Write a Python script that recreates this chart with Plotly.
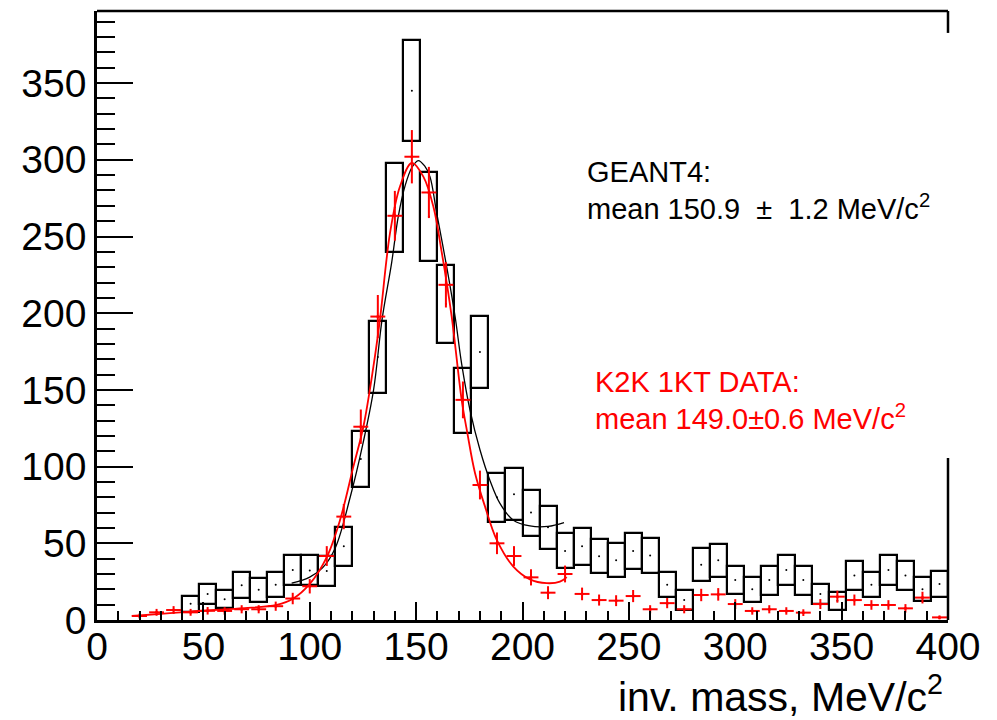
import numpy as np
import plotly.graph_objects as go

# ---------------- data ----------------
# GEANT4 histogram (bin centres, contents, half-height of error boxes)
geant_x = [44, 52, 60, 68, 76, 84, 92, 100, 108, 116, 124, 132, 140, 148, 156, 164,
           172, 180, 188, 196, 204, 212, 220, 228, 236, 244, 252, 260, 268, 276, 284,
           292, 300, 308, 316, 324, 332, 340, 348, 356, 364, 372, 380, 388, 396]
geant_y = [10.6, 17, 13.6, 22.6, 19.8, 23, 32.6, 32.3, 32, 48, 105, 171.5, 269, 345, 263, 206,
           143, 174.7, 80, 82, 70, 60.5, 45, 48, 41.5, 39, 45, 42, 23, 13, 36,
           39, 26, 20, 26, 32.6, 26, 17, 12.5, 29, 23, 32.6, 29, 20, 23.5]
geant_err = [5.2, 6.5, 6, 8.5, 7.8, 8.2, 9.8, 9.8, 10, 12.5, 18.5, 23.7, 29, 33, 29, 25.3,
             21.2, 23.6, 15.8, 17, 15, 14, 11.4, 12, 11.1, 11.1, 11.5, 11.5, 8, 6.5, 10.8,
             10.8, 9, 8, 9.5, 9.8, 9.5, 6.5, 6, 9.7, 8.2, 9.8, 9.2, 7.9, 8.2]

# K2K 1KT data points
data_x = [20, 28, 36, 44, 52, 60, 68, 76, 84, 92, 100, 108, 116, 124, 132, 140, 148, 156,
          164, 172, 180, 188, 196, 204, 212, 220, 228, 236, 244, 252, 260, 268, 276, 284,
          292, 300, 308, 316, 324, 332, 340, 348, 356, 364, 372, 380, 388, 396]
data_y = [2.6, 5, 6.5, 5, 6, 5.9, 7, 7, 9, 14, 22, 41.7, 67.4, 126, 197.8, 263.5, 302, 278.7,
          218.5, 143.5, 88, 50, 41.7, 27.8, 17.8, 30, 17, 13, 12.6, 15.6, 7, 11, 7, 16.3,
          16.7, 10.4, 5.9, 7, 5.9, 4.8, 10.4, 15.2, 13, 9.8, 9.8, 7.6, 14.6, 1.7]

# fitted curves
fit_mc_x = [91.5, 100, 106, 112, 119, 125, 130, 134, 138.5, 141.6, 144.8, 148, 151, 154,
            156.5, 159.7, 164.4, 168.3, 171.4, 175.3, 180, 184.7, 189.4, 195.7, 203.5, 212, 219.5]
fit_mc_y = [24, 28, 34, 47, 80, 115, 150, 196, 233, 263, 283, 295, 299.5, 296,
            289, 265, 230, 198, 167, 137, 111, 91, 76, 65, 61.3, 61, 63.5]

fit_data_x = [16.3, 30, 44, 67, 84.5, 92.3, 100, 108, 114.2, 120.5, 125.2, 129.9, 133, 137.7,
              142.4, 148, 153.4, 158.1, 162, 166.7, 171.4, 174.1, 177.7, 182.4, 187.9, 195.7,
              203.5, 211.4, 217.6, 220.8]
fit_data_y = [2.6, 4, 5.5, 7.6, 9.8, 14, 23.5, 41, 65, 100, 126, 165, 196, 252,
              282.6, 298, 289, 269.5, 240, 198, 143.5, 121.7, 95.7, 73.9, 52.2, 34.8,
              26.5, 24, 25, 28]

x_ticks = [0, 50, 100, 150, 200, 250, 300, 350, 400]
y_ticks = [0, 50, 100, 150, 200, 250, 300, 350]

# ---------------- figure ----------------
FONT = "Liberation Sans, Arial, sans-serif"
RED = "#ff0000"

gy = np.array(geant_y)
ge = np.array(geant_err)
dy = np.array(data_y)

fig = go.Figure()

fig.add_trace(go.Bar(
    x=geant_x, y=2 * ge, base=gy - ge, width=8,
    marker=dict(color="rgba(0,0,0,0)", line=dict(color="black", width=2.2)),
    showlegend=False, hoverinfo="skip"))

fig.add_trace(go.Scatter(
    x=geant_x, y=geant_y, mode="markers",
    marker=dict(color="black", size=2), showlegend=False, hoverinfo="skip"))

fig.add_trace(go.Scatter(
    x=fit_mc_x, y=fit_mc_y, mode="lines", line=dict(color="black", width=1.3, shape="spline"),
    showlegend=False, hoverinfo="skip"))

fig.add_trace(go.Scatter(
    x=data_x, y=data_y, mode="markers",
    marker=dict(color=RED, size=3),
    error_y=dict(type="data", array=np.sqrt(dy), color=RED, thickness=2, width=0),
    error_x=dict(type="constant", value=3.5, color=RED, thickness=2, width=0),
    showlegend=False, hoverinfo="skip"))

fig.add_trace(go.Scatter(
    x=fit_data_x, y=fit_data_y, mode="lines", line=dict(color=RED, width=1.8, shape="spline"),
    showlegend=False, hoverinfo="skip"))

fig.update_layout(
    width=981, height=712,
    margin=dict(l=89, r=41, t=3, b=100),
    paper_bgcolor="white", plot_bgcolor="white",
    font=dict(family=FONT, color="black"),
    bargap=0,
    xaxis=dict(range=[0, 400], tickvals=x_ticks, ticks="inside", ticklen=18, tickwidth=1.5,
               tickcolor="black", minor=dict(dtick=10, ticklen=9, ticks="inside", tickcolor="black", tickwidth=1.5),
               showline=True, linecolor="black", linewidth=2.5, showgrid=False, zeroline=False,
               tickfont=dict(size=39, family=FONT), ticklabelstandoff=-10),
    yaxis=dict(range=[0, 397], tickvals=y_ticks, ticks="inside", ticklen=36, tickwidth=1.5,
               tickcolor="black", minor=dict(dtick=10, ticklen=18, ticks="inside", tickcolor="black", tickwidth=1.5),
               showline=True, linecolor="black", linewidth=2.5, showgrid=False, zeroline=False,
               tickfont=dict(size=39, family=FONT), ticklabelstandoff=0),
    shapes=[
        dict(type="line", xref="paper", yref="paper", x0=0, x1=1, y0=1, y1=1,
             line=dict(color="black", width=2.5)),
        dict(type="line", xref="paper", yref="paper", x0=1, x1=1, y0=1, y1=0.964,
             line=dict(color="black", width=2.5)),
        dict(type="line", xref="paper", yref="paper", x0=1, x1=1, y0=0, y1=0.266,
             line=dict(color="black", width=2.5)),
    ],
    annotations=[
        dict(text="GEANT4:", xref="paper", yref="paper", x=0.5734, y=0.7356,
             xanchor="left", yanchor="middle", showarrow=False,
             font=dict(size=29, color="black", family=FONT)),
        dict(text="mean 150.9&nbsp; ±&nbsp; 1.2 MeV/c<sup>2</sup>", xref="paper", yref="paper", x=0.5734, y=0.678,
             xanchor="left", yanchor="middle", showarrow=False,
             font=dict(size=29, color="black", family=FONT)),
        dict(text="K2K 1KT DATA:", xref="paper", yref="paper", x=0.5828, y=0.391,
             xanchor="left", yanchor="middle", showarrow=False,
             font=dict(size=29, color=RED, family=FONT)),
        dict(text="mean 149.0±0.6 MeV/c<sup>2</sup>", xref="paper", yref="paper", x=0.5828, y=0.333,
             xanchor="left", yanchor="middle", showarrow=False,
             font=dict(size=29, color=RED, family=FONT)),
        dict(text="inv. mass, MeV/c<sup>2</sup>", xref="paper", yref="paper", x=0.9965, y=-0.122,
             xanchor="right", yanchor="middle", showarrow=False,
             font=dict(size=41, color="black", family=FONT)),
    ],
)

fig.write_html("out.html")
